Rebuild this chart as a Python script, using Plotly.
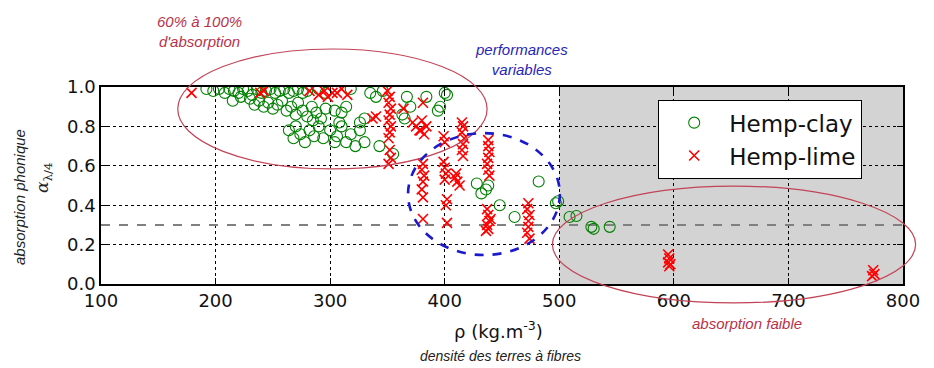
import plotly.graph_objects as go

# ---------------- data ----------------
clay_x = [192, 198, 203, 208, 212, 216, 220, 224, 228, 232, 236, 240, 244, 248, 252, 256, 260, 264, 268,
          272, 276, 280, 290, 296, 318, 335, 340, 346, 367, 384, 402, 400,
          215, 222, 230, 234, 238, 242, 246, 250, 254, 258, 262, 266, 270, 272, 276, 280, 284, 288, 292,
          296, 304, 310, 314, 326, 330, 363, 365, 370, 394, 396,
          264, 268, 270, 274, 278, 282, 286, 290, 294, 300, 304, 306, 310, 314, 318, 322, 326, 330, 343,
          355, 308, 285,
          428, 432, 436, 438, 448, 461, 482, 497, 499, 509, 515, 528, 530, 544]
clay_y = [0.99, 0.98, 0.99, 0.97, 0.99, 0.98, 0.97, 0.99, 0.98, 0.96, 0.99, 0.97, 0.98, 0.99, 0.97, 0.98, 0.99, 0.97, 0.98,
          0.99, 0.97, 0.98, 0.99, 0.97, 0.99, 0.97, 0.95, 0.98, 0.95, 0.95, 0.96, 0.97,
          0.93, 0.95, 0.94, 0.91, 0.93, 0.90, 0.92, 0.89, 0.91, 0.93, 0.88, 0.90, 0.86, 0.92, 0.88, 0.85, 0.90, 0.87, 0.84,
          0.89, 0.88, 0.87, 0.90, 0.82, 0.84, 0.86, 0.84, 0.90, 0.88, 0.90,
          0.78, 0.74, 0.80, 0.76, 0.72, 0.78, 0.75, 0.80, 0.74, 0.78, 0.72, 0.75, 0.80, 0.72, 0.76, 0.70, 0.78, 0.72, 0.70,
          0.66, 0.82, 0.83,
          0.51, 0.46, 0.48, 0.50, 0.40, 0.34, 0.52, 0.41, 0.42, 0.34, 0.345, 0.29, 0.28, 0.29]

lime_x = [179, 239, 242,
          282, 290, 295, 298, 302, 306, 310, 315,
          337, 340,
          350, 352, 351, 353, 352, 351, 353, 352, 351, 352, 353, 351,
          364,
          372, 375, 378, 380, 382, 384, 381, 379,
          399, 400,
          415, 416, 415, 417, 416, 415, 416,
          381, 380, 382, 381, 380, 381, 381,
          399, 400, 401, 400, 402, 401, 402,
          409, 411, 413, 410,
          438, 438, 439, 438, 437, 438, 439, 437, 438, 439, 437, 438, 436, 440,
          473, 472, 474, 473, 473, 472, 474,
          595, 596, 595, 597, 596,
          774, 775, 773]
lime_y = [0.97, 0.97, 0.98,
          0.98, 0.96, 0.98, 0.95, 0.97, 0.97, 0.99, 0.96,
          0.84, 0.85,
          0.98, 0.95, 0.92, 0.89, 0.86, 0.83, 0.80, 0.77, 0.74, 0.68, 0.64, 0.61,
          0.89,
          0.82, 0.80, 0.78, 0.83, 0.76, 0.80, 0.92, 0.78,
          0.75, 0.72,
          0.82, 0.80, 0.77, 0.74, 0.71, 0.68, 0.65,
          0.61, 0.58, 0.55, 0.52, 0.48, 0.44, 0.33,
          0.62, 0.59, 0.56, 0.53, 0.43, 0.40, 0.31,
          0.54, 0.52, 0.50, 0.56,
          0.73, 0.70, 0.67, 0.64, 0.61, 0.58, 0.55, 0.38, 0.35, 0.32, 0.30, 0.28, 0.27, 0.33,
          0.41, 0.38, 0.35, 0.32, 0.29, 0.26, 0.23,
          0.15, 0.13, 0.11, 0.10, 0.09,
          0.07, 0.05, 0.04]

x_ticks = [100, 200, 300, 400, 500, 600, 700, 800]
y_ticks = [0.0, 0.2, 0.4, 0.6, 0.8, 1.0]
threshold = 0.3
gray_zone = [500, 800]

X_RANGE = [100, 800]
Y_RANGE = [0, 1]

# ellipses in data coordinates: (x0, x1, y0, y1)
ell_high = (167, 437, 0.584, 1.193)
ell_var = (368, 500.5, 0.147, 0.766)
ell_low = (494, 811, -0.096, 0.497)

# plot-area geometry (page pixels) used to place free text
PX_L, PX_R, PX_T, PX_B = 101, 903, 87, 284
PAGE_OFF = 8  # default body margin of the html page


def px(x):
    return (x - PX_L) / (PX_R - PX_L)


def py(y):
    return (PX_B - y) / (PX_B - PX_T)


def to_paper(e):
    x0, x1, y0, y1 = e
    sx = X_RANGE[1] - X_RANGE[0]
    sy = Y_RANGE[1] - Y_RANGE[0]
    return dict(x0=(x0 - X_RANGE[0]) / sx, x1=(x1 - X_RANGE[0]) / sx,
                y0=(y0 - Y_RANGE[0]) / sy, y1=(y1 - Y_RANGE[0]) / sy)


fig = go.Figure()
fig.add_trace(go.Scatter(
    x=clay_x, y=clay_y, mode="markers", name="Hemp-clay",
    marker=dict(symbol="circle-open", size=11, color="#008000", line=dict(width=1.1, color="#008000")),
))
fig.add_trace(go.Scatter(
    x=lime_x, y=lime_y, mode="markers", name="Hemp-lime",
    marker=dict(symbol="x-thin-open", size=10, color="#ff0000", line=dict(width=1.6, color="#ff0000")),
))

shapes = [
    dict(type="rect", xref="x", yref="paper", x0=gray_zone[0], x1=gray_zone[1], y0=0, y1=1,
         fillcolor="#d3d3d3", line=dict(width=0), layer="between"),
    dict(type="line", xref="x", yref="y", x0=X_RANGE[0], x1=X_RANGE[1], y0=threshold, y1=threshold,
         line=dict(color="#808080", width=2, dash="dash"), layer="between"),
    dict(type="circle", xref="paper", yref="paper", line=dict(color="#c24457", width=1.2), **to_paper(ell_high)),
    dict(type="circle", xref="paper", yref="paper", line=dict(color="#1a1acc", width=2.6, dash="dash"), **to_paper(ell_var)),
    dict(type="circle", xref="paper", yref="paper", line=dict(color="#c24457", width=1.2), **to_paper(ell_low)),
]

red_txt = "#b8324a"
blue_txt = "#2626b8"


def note(text, x, y, family="Liberation Sans", size=15, color="#222", angle=0):
    return dict(text=text, x=px(x), y=py(y), xref="paper", yref="paper",
                xanchor="center", yanchor="middle", showarrow=False, textangle=angle,
                align="center", font=dict(family=family, size=size, color=color))


annots = [
    note("<i>60% à 100%<br>d'absorption</i>", 199, 32, color=red_txt),
    note("<i>performances<br>variables</i>", 521, 60, color=blue_txt),
    note("<i>absorption faible</i>", 747, 323, color=red_txt),
    note("ρ (kg.m<sup>-3</sup>)", 498, 330, family="DejaVu Sans", size=18, color="#111"),
    note("<i>densité des terres à fibres</i>", 500, 356, size=14),
    note("<i>absorption phonique</i>", 19, 197, angle=-90),
    note("<i>α</i><sub>λ/4</sub>", 43, 177, family="DejaVu Serif", size=17, angle=-90),
]

W, H = 934 - 2 * PAGE_OFF, 368 - PAGE_OFF
m_l = PX_L - PAGE_OFF
m_t = PX_T - PAGE_OFF
m_r = W - (PX_R - PAGE_OFF)
m_b = H - (PX_B - PAGE_OFF)

fig.update_layout(
    width=W, height=H,
    margin=dict(l=m_l, r=m_r, t=m_t, b=m_b, autoexpand=False),
    paper_bgcolor="white", plot_bgcolor="white",
    shapes=shapes, annotations=annots,
    showlegend=True,
    legend=dict(x=px(658), y=py(100), xanchor="left", yanchor="top",
                bgcolor="white", bordercolor="black", borderwidth=1.2,
                font=dict(family="DejaVu Sans", size=23, color="#111"),
                itemwidth=60, tracegroupgap=2),
    font=dict(family="DejaVu Sans", size=18, color="#111"),
)
fig.update_xaxes(range=X_RANGE, tickvals=x_ticks, ticktext=[str(v) for v in x_ticks],
                 showline=True, linecolor="black", linewidth=1.5, mirror="ticks",
                 ticks="inside", ticklen=6, tickcolor="black",
                 showgrid=True, gridcolor="black", gridwidth=1, griddash="dot", zeroline=False,
                 tickfont=dict(family="DejaVu Sans", size=18, color="#111"))
fig.update_yaxes(range=Y_RANGE, tickvals=y_ticks, ticktext=[f"{v:.1f}" for v in y_ticks],
                 showline=True, linecolor="black", linewidth=1.5, mirror="ticks",
                 ticks="inside", ticklen=6, tickcolor="black",
                 showgrid=True, gridcolor="black", gridwidth=1, griddash="dot", zeroline=False,
                 tickfont=dict(family="DejaVu Sans", size=18, color="#111"))

fig.write_html("out.html")
